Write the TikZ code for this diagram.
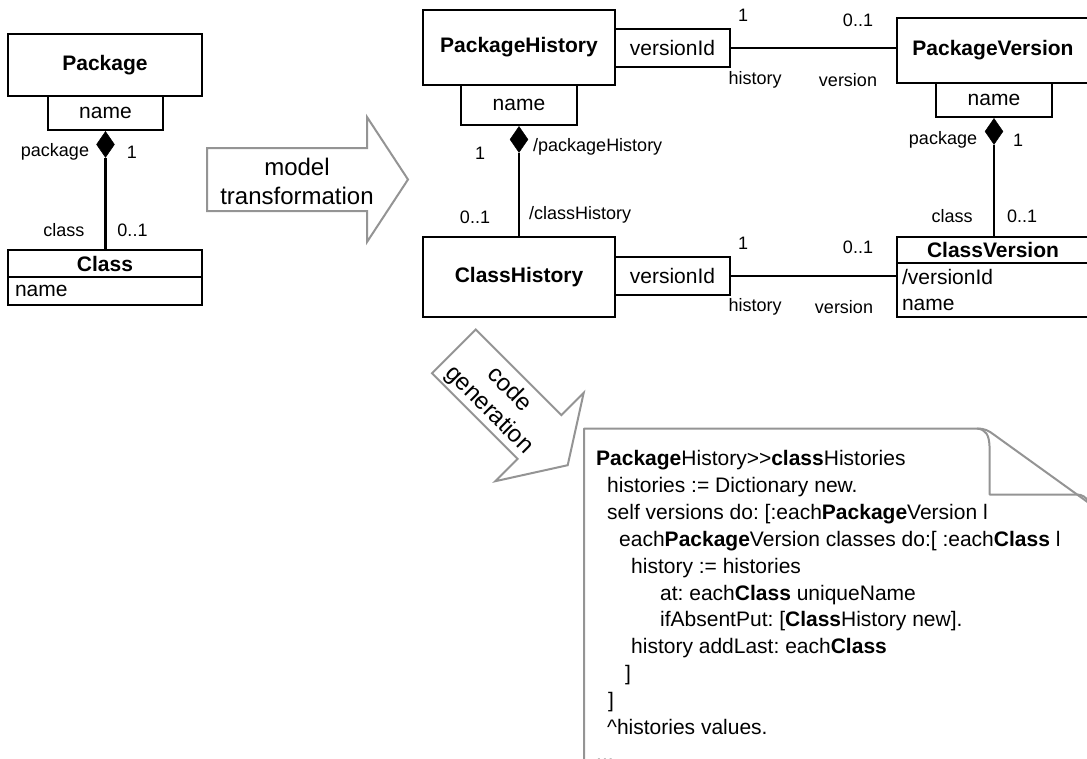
\documentclass[tikz,border=0pt]{standalone}
\usepackage{fontspec}
\setmainfont{Liberation Sans}
\usetikzlibrary{shapes.geometric}
\frenchspacing
\tikzset{
  umlbox/.style={draw, line width=2.4pt, inner sep=0pt, font=\fontsize{21}{25}\selectfont},
  clsname/.style={umlbox, font=\bfseries\fontsize{21}{25}\selectfont},
  attrbox/.style={umlbox, align=left, inner xsep=5pt},
  lbl/.style={inner sep=0pt, font=\fontsize{18}{21}\selectfont},
  conn/.style={line width=2.4pt},
  compo/.style={diamond, fill=black, draw=black, line width=0.5pt, inner sep=0pt, minimum width=18pt, minimum height=26pt, anchor=north},
  bigarrow/.style={draw=black!42, line width=2pt, fill=white, line join=miter},
  codeline/.style={anchor=base west, inner sep=0pt, font=\frenchspacing\fontsize{21}{25}\selectfont},
  arrowtext/.style={inner sep=0pt, align=center, font=\fontsize{24}{29}\selectfont}
}
\begin{document}
\frenchspacing
\begin{tikzpicture}[x=1pt, y=-1pt]
\useasboundingbox (0,0) rectangle (1087,758);

% ---------- left model ----------
\node[clsname, minimum width=194pt, minimum height=62pt] (pkg) at (105,65) {Package};
\node[umlbox, minimum width=115pt, minimum height=34pt] (pkgname) at (105.5,113) {name};
\node[compo] (pkgdia) at (pkgname.south) {};
\node[clsname, minimum width=194pt, minimum height=27pt] (cls) at (105,263.5) {Class};
\node[umlbox, minimum width=194pt, minimum height=28pt, text width=180pt, align=left, inner xsep=7pt] (clsattr) at (105,291) {name};
\draw[conn] (pkgdia.south) -- (pkgdia.south |- cls.north);
\node[lbl] (l1) at (55,152) {package};
\node[lbl] (l2) at (132,152) {1};
\node[lbl] (l3) at (64,230) {class};
\node[lbl] (l4) at (132.5,230) {0..1};

% ---------- model transformation arrow ----------
\draw[bigarrow] (207,148) -- (367,148) -- (367,117) -- (408,179.5) -- (367,242) -- (367,211) -- (207,211) -- cycle;
\node[arrowtext] (mt) at (297,181) {model\\transformation};

% ---------- right model ----------
\node[clsname, minimum width=192pt, minimum height=75pt] (ph) at (519,47.5) {PackageHistory};
\node[umlbox, minimum width=116pt, minimum height=40pt] (phname) at (519,105) {name};
\node[compo] (phdia) at (phname.south) {};
\node[clsname, minimum width=192pt, minimum height=80pt] (ch) at (519,277) {ClassHistory};
\draw[conn] (phdia.south) -- (phdia.south |- ch.north);
\node[lbl] (l5) at (480,153) {1};
\node[lbl, anchor=west] (l6) at (533,147) {/packageHistory};
\node[lbl] (l7) at (475,217) {0..1};
\node[lbl, anchor=west] (l8) at (529,215) {/classHistory};

\node[umlbox, minimum width=115pt, minimum height=38pt] (vid1) at (672.5,48) {versionId};
\node[umlbox, minimum width=115pt, minimum height=38pt] (vid2) at (672.5,276) {versionId};

\node[clsname, minimum width=192pt, minimum height=65pt] (pv) at (993,50.5) {PackageVersion};
\node[umlbox, minimum width=116pt, minimum height=34pt] (pvname) at (994,100) {name};
\node[compo] (pvdia) at (pvname.south) {};
\node[clsname, minimum width=192pt, minimum height=26pt] (cv) at (993,250) {ClassVersion};
\node[attrbox, minimum width=192pt, minimum height=54pt, text width=182pt, font=\fontsize{21}{26}\selectfont] (cvattr) at (993,290) {/versionId\\name};
\draw[conn] (pvdia.south) -- (pvdia.south |- cv.north);
\node[lbl] (l9) at (943,140) {package};
\node[lbl] (l10) at (1018,140) {1};
\node[lbl] (l11) at (952,216) {class};
\node[lbl] (l12) at (1022,216) {0..1};

\draw[conn] (vid1.east) -- (vid1.east -| pv.west);
\draw[conn] (vid2.east) -- (vid2.east -| cvattr.west);
\node[lbl] (a1) at (743,15) {1};
\node[lbl] (a2) at (858,20) {0..1};
\node[lbl] (a3) at (755,80) {history};
\node[lbl] (a4) at (848,80) {version};
\node[lbl] (b1) at (743,243) {1};
\node[lbl] (b2) at (858,247) {0..1};
\node[lbl] (b3) at (755,307) {history};
\node[lbl] (b4) at (844,307) {version};

% ---------- code generation arrow ----------
\draw[bigarrow] (475.8,329.5) -- (561.4,415.1) -- (583.7,392.8) -- (567.7,465.2) -- (495.3,481.2) -- (517.6,458.9) -- (432,373.3) -- cycle;
\node[arrowtext, rotate=-45] (cg) at (499,400) {code\\generation};

% ---------- code page ----------
\draw[draw=black!42, line width=2pt, line join=round]
  (584,775) -- (584,428.5) -- (977,428.5)
  .. controls (985,428.5) and (989,431) .. (993,434)
  -- (1100,511);
\draw[draw=black!42, line width=2pt, line join=round]
  (977,428.5) .. controls (986,429.5) and (989,435) .. (989.5,446)
  -- (989.5,494.5) -- (1077,494.5)
  .. controls (1082,494.5) and (1086,497) .. (1090,503);

\node[codeline] (c1) at (596,465.5) {\textbf{Package}History>{}>\textbf{class}Histories};
\node[codeline] (c2) at (607,492.4) {histories := Dictionary new.};
\node[codeline] (c3) at (607,519.3) {self versions do: [:each\textbf{Package}Version l};
\node[codeline] (c4) at (619,546.2) {each\textbf{Package}Version classes do:[ :each\textbf{Class} l};
\node[codeline] (c5) at (631,573.1) {history := histories};
\node[codeline] (c6) at (660,600) {at: each\textbf{Class} uniqueName};
\node[codeline] (c7) at (660,626.9) {ifAbsentPut: [\textbf{Class}History new].};
\node[codeline] (c8) at (631,653.8) {history addLast: each\textbf{Class}};
\node[codeline] (c9) at (625,680.7) {]};
\node[codeline] (c10) at (608,707.6) {]};
\node[codeline] (c11) at (607,734.5) {\textasciicircum histories values.};
\node[codeline] (c12) at (596,761.4) {...};
\end{tikzpicture}
\end{document}
